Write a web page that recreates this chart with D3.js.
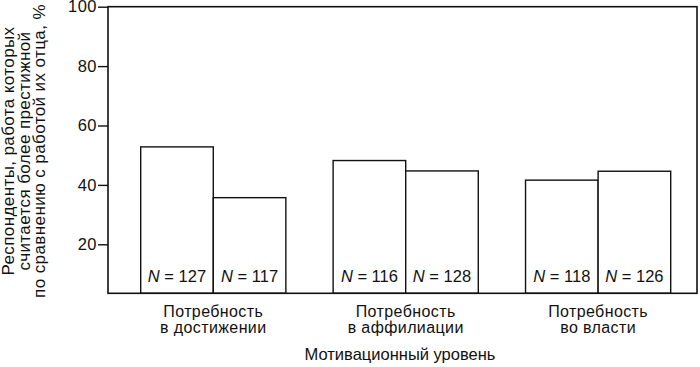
<!DOCTYPE html>
<html><head><meta charset="utf-8">
<script src="https://cdn.jsdelivr.net/npm/d3@7"></script>
<style>
html,body{margin:0;padding:0;background:#fff;}
svg{display:block;font-family:"Liberation Sans",Arial,Helvetica,sans-serif;}
</style></head>
<body>
<svg id="chart" width="700" height="367"></svg>
<script>
const categories = ["Потребность в достижении", "Потребность в аффилиации", "Потребность во власти"];
const categoryLines = [["Потребность", "в достижении"], ["Потребность", "в аффилиации"], ["Потребность", "во власти"]];
const seriesNames = ["A", "B"];
const valuesA = [52.8, 48.2, 41.6];
const valuesB = [35.7, 44.7, 44.6];
const countsA = [127, 116, 118];
const countsB = [117, 128, 126];
const yTicks = [20, 40, 60, 80, 100];
const yDomain = [3.5, 100];
const yTitleLines = ["Респонденты, работа которых", "считается более престижной", "по сравнению с работой их отца, %"];
const xTitle = "Мотивационный уровень";

const svg = d3.select("#chart");
const frame = {left: 108, right: 697, top: 6.7, bottom: 293.3};

const y = d3.scaleLinear().domain(yDomain).range([frame.bottom, frame.top]);
const x0 = d3.scaleBand().domain(categories).range([140.7, 670.7]).paddingInner(0.2456).paddingOuter(0);
const x1 = d3.scaleBand().domain(seriesNames).range([0, x0.bandwidth()]).padding(0);

const data = categories.map((c, i) => ({
  cat: c,
  bars: [
    {s: "A", v: valuesA[i], n: countsA[i]},
    {s: "B", v: valuesB[i], n: countsB[i]}
  ]
}));

// bars
const g = svg.append("g");
const groups = g.selectAll("g.grp").data(data).join("g")
  .attr("transform", d => `translate(${x0(d.cat)},0)`);
groups.selectAll("rect").data(d => d.bars).join("rect")
  .attr("x", d => x1(d.s))
  .attr("y", d => y(d.v))
  .attr("width", x1.bandwidth())
  .attr("height", d => y(yDomain[0]) - y(d.v))
  .attr("fill", "#fff")
  .attr("stroke", "#111")
  .attr("stroke-width", 1.4);

const nt = groups.selectAll("text.n").data(d => d.bars).join("text")
  .attr("class", "n")
  .attr("x", d => x1(d.s) + x1.bandwidth() / 2)
  .attr("y", 282.3)
  .attr("text-anchor", "middle")
  .attr("font-size", 16.5)
  .attr("fill", "#111");
nt.append("tspan").attr("font-style", "italic").text("N");
nt.append("tspan").text(d => " = " + d.n);

// frame
svg.append("rect")
  .attr("x", frame.left).attr("y", frame.top)
  .attr("width", frame.right - frame.left).attr("height", frame.bottom - frame.top)
  .attr("fill", "none").attr("stroke", "#111").attr("stroke-width", 1.6);

// y axis
const yAxis = d3.axisLeft(y).tickValues(yTicks).tickSize(10).tickPadding(1).tickFormat(d3.format("d"));
const ya = svg.append("g").attr("transform", `translate(${frame.left},0)`).call(yAxis);
ya.select(".domain").remove();
ya.selectAll("line").attr("stroke", "#111").attr("stroke-width", 1.4);
ya.selectAll("text").attr("font-size", 16.5).attr("letter-spacing", 0.5).attr("fill", "#111")
  .attr("font-family", "'Liberation Sans',Arial,sans-serif");

// category labels
const cl = svg.append("g").selectAll("text").data(categories).join("text")
  .attr("text-anchor", "middle")
  .attr("font-size", 16)
  .attr("letter-spacing", 0.4)
  .attr("fill", "#111");
cl.each(function(d, i) {
  const t = d3.select(this);
  categoryLines[i].forEach((ln, j) => {
    t.append("tspan").attr("x", x0(d) + x0.bandwidth() / 2).attr("y", 317.3 + j * 15.2).text(ln);
  });
});

// x title
svg.append("text").attr("x", 400).attr("y", 360).attr("text-anchor", "middle")
  .attr("font-size", 16.5).attr("fill", "#111").text(xTitle);

// y title
const yt = svg.append("text").attr("transform", "translate(0,151) rotate(-90)")
  .attr("text-anchor", "middle").attr("font-size", 17).attr("letter-spacing", 0.4).attr("fill", "#111");
yTitleLines.forEach((ln, j) => {
  yt.append("tspan").attr("x", 0).attr("y", 14 + j * 15.5).text(ln);
});
</script>
</body></html>
